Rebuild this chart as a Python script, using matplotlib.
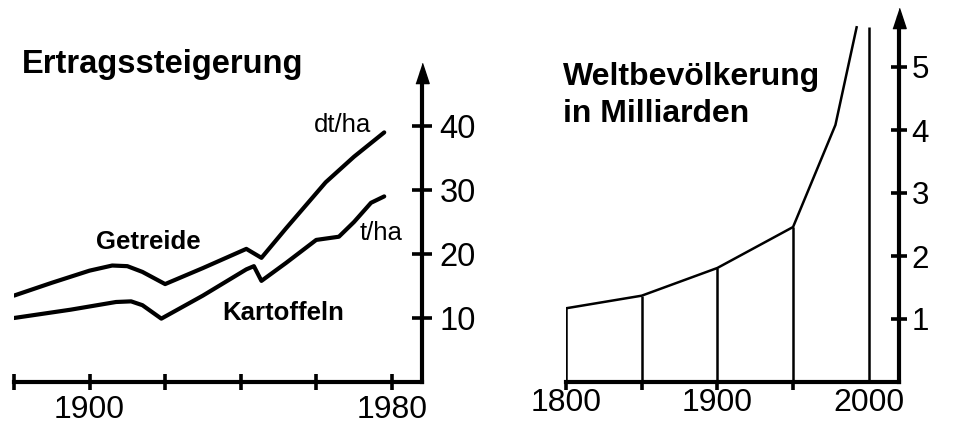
import matplotlib
matplotlib.use("Agg")
import matplotlib.pyplot as plt

plt.rcParams["font.family"] = ["Liberation Sans", "DejaVu Sans"]

# left chart: yield increase (dt/ha for grain, t/ha for potatoes)
yield_xticks = [1880, 1900, 1920, 1940, 1960, 1980]
yield_xlabels = ["", "1900", "", "", "", "1980"]
yield_yticks = [10, 20, 30, 40]
grain_years = [1880, 1890, 1900, 1906, 1910, 1914, 1920, 1930, 1941.5, 1945.5, 1952, 1962.5, 1970, 1978]
grain_values = [13.5, 15.5, 17.4, 18.2, 18.1, 17.2, 15.3, 17.8, 20.8, 19.4, 24.0, 31.2, 35.2, 39.0]
potato_years = [1880, 1895, 1907, 1911, 1914, 1919, 1930, 1941.5, 1943.5, 1945.5, 1952, 1960, 1966, 1970, 1974.5, 1978]
potato_values = [10.0, 11.3, 12.5, 12.6, 12.0, 9.9, 13.5, 17.6, 18.1, 15.8, 18.6, 22.2, 22.7, 25.0, 28.0, 29.0]

# right chart: world population in billions
pop_years = [1800, 1850, 1900, 1950, 1978, 1992]
pop_values = [1.17, 1.37, 1.81, 2.46, 4.08, 5.63]
pop_xticks = [1800, 1850, 1900, 1950, 2000]
pop_xlabels = ["1800", "", "1900", "", "2000"]
pop_yticks = [1, 2, 3, 4, 5]

W, H = 954, 437
arrow = [(-0.33, -0.5), (0.33, -0.5), (0, 0.5)]


def frame(ax, xticks, xlabels, yticks, xlen, xdir, xpad, ylen, ypad, ysize):
    ax.set_facecolor("none")
    ax.spines["top"].set_visible(False)
    ax.spines["left"].set_visible(False)
    for s in ("right", "bottom"):
        ax.spines[s].set_linewidth(3)
        ax.spines[s].set_capstyle("projecting")
    ax.yaxis.tick_right()
    ax.set_xticks(xticks, xlabels)
    ax.set_yticks(yticks)
    ax.tick_params(axis="x", direction=xdir, length=xlen, width=2.6, pad=xpad, labelsize=23)
    ax.tick_params(axis="y", direction="inout", length=ylen, width=2.6, pad=ypad, labelsize=ysize)
    ax.plot([1], [1], marker=arrow, ms=14.5, color="black", transform=ax.transAxes, clip_on=False)


fig = plt.figure(figsize=(W / 100, H / 100), dpi=100)

# left axes
ax1 = fig.add_axes([14 / W, (H - 382) / H, 408 / W, 309 / H])
ax1.set_xlim(1880, 1988)
ax1.set_ylim(0, 309 / 6.4)
frame(ax1, yield_xticks, yield_xlabels, yield_yticks, 12, "inout", 3, 15, 5, 23.5)
ax1.plot(grain_years, grain_values, color="black", lw=3, solid_joinstyle="round", solid_capstyle="round")
ax1.plot(potato_years, potato_values, color="black", lw=3, solid_joinstyle="round", solid_capstyle="round")
ax1.text(1901.6, 21.9, "Getreide", fontsize=18.5, fontweight="bold", va="center")
ax1.text(1935, 10.8, "Kartoffeln", fontsize=18.5, fontweight="bold", va="center")
ax1.text(1959.5, 40.2, "dt/ha", fontsize=18.5, va="center")
ax1.text(1971.5, 23.3, "t/ha", fontsize=18.5, va="center")

# right axes
ax2 = fig.add_axes([566 / W, (H - 382) / H, 333 / W, 364 / H])
ax2.set_xlim(1800, 2020)
ax2.set_ylim(0, 364 / 63)
frame(ax2, pop_xticks, pop_xlabels, pop_yticks, 6, "out", -1.5, 12, 3, 22.5)
ax2.xaxis.get_major_ticks()[-1].tick1line.set_visible(False)
ax2.plot(pop_years, pop_values, color="black", lw=1.8)
ax2.vlines(pop_years[:4], 0, pop_values[:4], color="black", lw=1.8)
ax2.vlines(2000, 0, pop_values[-1], color="black", lw=1.8)

fig.text(22 / W, 1 - 73 / H, "Ertragssteigerung", fontsize=23.5, fontweight="bold", va="baseline")
fig.text(563 / W, 1 - 85 / H, "Weltbevölkerung", fontsize=23, fontweight="bold", va="baseline")
fig.text(563 / W, 1 - 122 / H, "in Milliarden", fontsize=23, fontweight="bold", va="baseline")

fig.savefig("out.png", dpi=100)
